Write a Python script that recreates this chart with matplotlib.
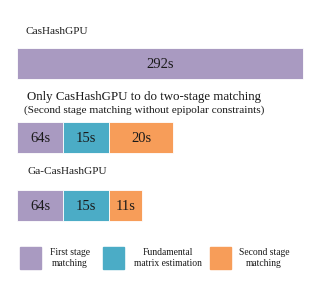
import matplotlib
matplotlib.use("Agg")
import matplotlib.pyplot as plt
from matplotlib.patches import Rectangle

plt.rcParams['font.family'] = ['Liberation Serif', 'DejaVu Serif']

# Data
methods = ["CasHashGPU",
           "Only CasHashGPU to do two-stage matching",
           "(Second stage matching without epipolar constraints)",
           "Ga-CasHashGPU"]
stages = ["First stage\nmatching", "Fundamental\nmatrix estimation", "Second stage\nmatching"]
time_labels = [["292s"], ["64s", "15s", "20s"], ["64s", "15s", "11s"]]
# schematic bar lengths (as drawn in the figure, arbitrary units)
bar_lengths = [[286], [46, 46, 64], [46, 46, 33]]
colors = ["#A99AC1", "#4BACC6", "#F79D59"]

fig = plt.figure(figsize=(3.17, 2.85), dpi=100)
ax = fig.add_axes([0, 0, 1, 1])
ax.set_xlim(0, 317)
ax.set_ylim(285, 0)
ax.axis('off')

row_y = [63.5, 137, 205]
bar_h = 31
x0 = 17
for r, (labels, lengths) in enumerate(zip(time_labels, bar_lengths)):
    left = x0
    for i, (lab, ln) in enumerate(zip(labels, lengths)):
        ax.barh(row_y[r], ln, left=left, height=bar_h, color=colors[i], edgecolor='white', linewidth=0.6)
        ax.text(left + ln / 2, row_y[r] + 1, lab, ha='center', va='center', fontsize=10.5, color='#1a1a1a')
        left += ln

ax.text(25, 31, methods[0], ha='left', va='center', fontsize=8.1, color='#1a1a1a')
ax.text(144, 97, methods[1], ha='center', va='center', fontsize=9.3, color='#1a1a1a')
ax.text(144, 110, methods[2], ha='center', va='center', fontsize=8.1, color='#1a1a1a')
ax.text(27, 171, methods[3], ha='left', va='center', fontsize=8.1, color='#1a1a1a')

leg_x = [20, 103, 210]
text_x = [70, 168, 264]
for i in range(3):
    ax.add_patch(Rectangle((leg_x[i], 247), 21, 22, color=colors[i]))
    ax.text(text_x[i], 258, stages[i], ha='center', va='center', fontsize=6.9, linespacing=1.3, color='#1a1a1a')

fig.savefig("out.png", dpi=100)
